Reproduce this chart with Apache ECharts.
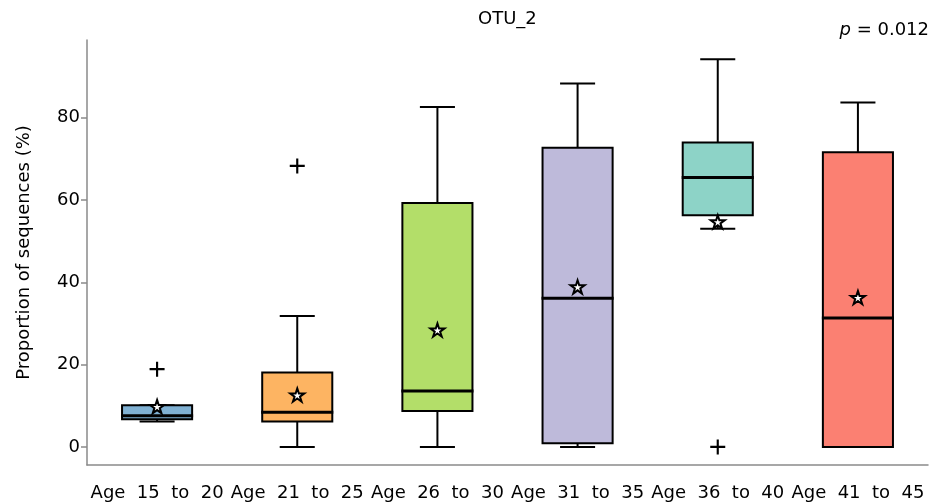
<!DOCTYPE html>
<html><head><meta charset="utf-8">
<script src="https://cdn.jsdelivr.net/npm/echarts@6/dist/echarts.min.js"></script>
<style>html,body{margin:0;padding:0;background:#fff}#c{width:935px;height:503px}</style>
</head><body><div id="c"></div>
<script>
const categories = ['Age  15  to  20', 'Age  21  to  25', 'Age  26  to  30', 'Age  31  to  35', 'Age  36  to  40', 'Age  41  to  45'];
const whiskerLow  = [6.2, 0.0, 0.0, 0.0, 53.0, 0.0];
const q1          = [6.7, 6.2, 8.7, 0.9, 56.3, 0.0];
const median      = [7.6, 8.4, 13.6, 36.1, 65.5, 31.3];
const q3          = [10.1, 18.1, 59.3, 72.7, 74.0, 71.6];
const whiskerHigh = [10.1, 31.8, 82.6, 88.3, 94.2, 83.7];
const means       = [9.8, 12.6, 28.4, 38.9, 54.7, 36.3];
const outliers    = [[0, 18.9], [1, 68.3], [4, 0.0]];
const yTicks      = [0, 20, 40, 60, 80];
const boxColors   = ['#80b1d3', '#fdb462', '#b3de69', '#bebada', '#8dd3c7', '#fb8072'];

const FONT = 'DejaVu Sans';
const AXIS_COLOR = '#8a8a8a';
const boxData = categories.map((c, i) => [i, whiskerLow[i], q1[i], median[i], q3[i], whiskerHigh[i]]);

const starPath = 'path://M50,0L61.2,34.5L97.6,34.5L68.2,55.9L79.4,90.5L50,69.1L20.6,90.5L31.8,55.9L2.4,34.5L38.8,34.5Z';
const plusPath = 'path://M0,6H6V0H8V6H14V8H8V14H6V8H0Z';

const chart = echarts.init(document.getElementById('c'), null, {renderer: 'canvas'});
chart.setOption({
  animation: false,
  backgroundColor: '#fff',
  textStyle: {fontFamily: FONT},
  grid: {left: 87, right: 7, top: 40, bottom: 38},
  graphic: [
    {type: 'text', left: 509 - 31, top: 10, style: {text: 'OTU_2', font: '18px "DejaVu Sans"', fill: '#000'}},
    {type: 'text', right: 6, top: 21, style: {
      text: '{i|p} = 0.012', font: '18px "DejaVu Sans"', fill: '#000',
      rich: {i: {fontStyle: 'italic', fontFamily: FONT, fontSize: 18}}
    }}
  ],
  xAxis: {
    type: 'category', data: categories, boundaryGap: true,
    axisLine: {onZero: false, lineStyle: {color: AXIS_COLOR, width: 1.5}},
    axisTick: {alignWithLabel: true, length: 6, lineStyle: {color: AXIS_COLOR, width: 1.5}},
    axisLabel: {interval: 0, color: '#000', fontSize: 18, fontFamily: FONT, margin: 19, hideOverlap: false},
    splitLine: {show: false}
  },
  yAxis: {
    type: 'value', min: -4.4, max: 98.9,
    name: 'Proportion of sequences (%)', nameLocation: 'middle', nameGap: 54,
    nameTextStyle: {color: '#000', fontSize: 18, fontFamily: FONT},
    axisLine: {show: true, lineStyle: {color: AXIS_COLOR, width: 1.5}},
    axisTick: {show: true, length: 6, customValues: yTicks, lineStyle: {color: AXIS_COLOR, width: 1.5}},
    axisLabel: {color: '#000', fontSize: 18, fontFamily: FONT, margin: 7, customValues: yTicks},
    splitLine: {show: false}
  },
  series: [
    {
      type: 'custom', z: 2,
      data: boxData,
      encode: {x: 0, y: [1, 2, 3, 4, 5]},
      renderItem: function (params, api) {
        const i = api.value(0);
        const bw = api.size([1, 0])[0];
        const half = bw * 0.25, capHalf = bw * 0.125;
        const x = api.coord([i, 0])[0];
        const yLo = api.coord([i, api.value(1)])[1];
        const yQ1 = api.coord([i, api.value(2)])[1];
        const yMed = api.coord([i, api.value(3)])[1];
        const yQ3 = api.coord([i, api.value(4)])[1];
        const yHi = api.coord([i, api.value(5)])[1];
        const ls = {stroke: '#000', lineWidth: 2};
        return {type: 'group', children: [
          {type: 'line', shape: {x1: x, y1: yQ3, x2: x, y2: yHi}, style: ls},
          {type: 'line', shape: {x1: x, y1: yQ1, x2: x, y2: yLo}, style: ls},
          {type: 'line', shape: {x1: x - capHalf, y1: yHi, x2: x + capHalf, y2: yHi}, style: ls},
          {type: 'line', shape: {x1: x - capHalf, y1: yLo, x2: x + capHalf, y2: yLo}, style: ls},
          {type: 'rect', shape: {x: x - half, y: yQ3, width: 2 * half, height: yQ1 - yQ3},
            style: {fill: boxColors[i], stroke: '#000', lineWidth: 2}},
          {type: 'line', shape: {x1: x - half - 1, y1: yMed, x2: x + half + 1, y2: yMed},
            style: {stroke: '#000', lineWidth: 3}}
        ]};
      }
    },
    {
      type: 'scatter', z: 4,
      data: means.map((v, i) => [i, v]),
      symbol: starPath, symbolKeepAspect: true, symbolSize: 14,
      itemStyle: {color: '#fff', borderColor: '#000', borderWidth: 2, opacity: 1}
    },
    {
      type: 'scatter', z: 4,
      data: outliers,
      symbol: plusPath, symbolSize: 15,
      itemStyle: {color: '#000', opacity: 1}
    }
  ]
});
</script>
</body></html>
